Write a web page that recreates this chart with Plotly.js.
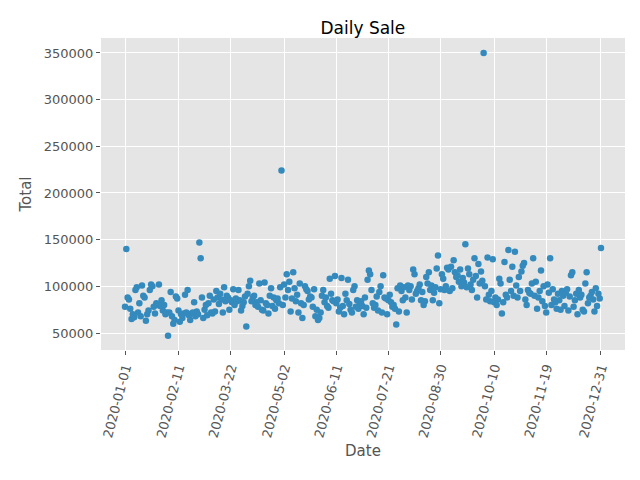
<!DOCTYPE html>
<html><head><meta charset="utf-8">
<script src="https://cdn.plot.ly/plotly-3.0.1.min.js"></script>
<style>body{margin:0}</style></head>
<body><div id="chart" style="width:640px;height:480px"></div>
<script>
// daily sales per month, 2020
const jan = [78000,140000,88000,86000,76000,65000,70000,67000,96000,99000,72000,82000,68000,101000,90000,88000,63000,70000,74000,96000,102000,100000,78000,71000,82000,80000,102000,79000,85000,74000,80000];
const feb = [70000,72000,47000,72000,94000,68000,60000,64000,89000,87000,74000,62000,70000,66000,71000,91000,72000,96000,69000,64000,71000,72000,83000,68000,73000,70000,147000,130000,88000];
const mar = [66000,75000,80000,69000,82000,90000,72000,71000,86000,73000,95000,88000,81000,92000,86000,72000,99000,84000,90000,88000,75000,85000,83000,97000,80000,87000,84000,96000,85000,74000,79000];
const apr = [83000,89000,57000,92000,100000,106000,84000,88000,90000,80000,83000,78000,103000,85000,75000,74000,104000,82000,80000,71000,90000,98000,79000,88000,76000,85000,87000,82000,99000,224000];
const may = [80000,102000,88000,113000,96000,105000,73000,87000,115000,98000,84000,91000,72000,103000,82000,66000,80000,100000,97000,95000,86000,89000,88000,78000,97000,68000,75000,64000,66000,72000,90000];
const jun = [96000,83000,88000,79000,77000,108000,92000,85000,84000,111000,82000,86000,73000,77000,109000,79000,70000,92000,85000,107000,81000,75000,72000,96000,100000,78000,85000,76000,82000,84000];
const jul = [79000,70000,88000,77000,107000,117000,113000,96000,82000,77000,80000,89000,74000,94000,100000,72000,112000,88000,87000,70000,85000,91000,83000,78000,80000,76000,59000,98000,73000,101000,95000];
const aug = [85000,99000,88000,72000,101000,96000,100000,86000,118000,113000,92000,95000,98000,102000,85000,94000,80000,84000,110000,103000,115000,96000,101000,85000,93000,99000,119000,133000,82000,97000,113000];
const sep = [108000,96000,100000,120000,118000,95000,121000,98000,128000,115000,110000,112000,105000,118000,100000,109000,104000,145000,99000,119000,113000,102000,96000,107000,130000,111000,88000,124000,103000,116000];
const oct = [106000,350000,100000,86000,131000,91000,84000,95000,129000,83000,88000,80000,86000,108000,103000,71000,83000,126000,91000,88000,139000,107000,95000,121000,90000,137000,101000,88000,110000,95000,116000];
const nov = [122000,125000,86000,80000,96000,93000,92000,103000,130000,90000,105000,76000,88000,95000,117000,84000,100000,79000,72000,102000,93000,130000,80000,97000,86000,83000,76000,92000,85000,75000];
const dec = [95000,90000,79000,93000,97000,74000,89000,112000,115000,78000,85000,92000,70000,96000,88000,91000,75000,73000,103000,115000,82000,88000,90000,94000,86000,73000,98000,79000,92000,87000,141000];
const tickLabels = ['2020-01-01','2020-02-11','2020-03-22','2020-05-02','2020-06-11','2020-07-21','2020-08-30','2020-10-10','2020-11-19','2020-12-31'];

const months = [jan,feb,mar,apr,may,jun,jul,aug,sep,oct,nov,dec];
const dates = [], sales = [];
months.forEach((m, mi) => m.forEach((v, di) => {
    dates.push('2020-' + String(mi + 1).padStart(2, '0') + '-' + String(di + 1).padStart(2, '0'));
    sales.push(v);
}));

const trace = {
    x: dates, y: sales, type: 'scatter', mode: 'markers',
    marker: { color: '#348ABD', size: 6.5 }
};

const layout = {
    width: 640, height: 480,
    paper_bgcolor: '#ffffff', plot_bgcolor: '#e5e5e5',
    margin: { l: 101, r: 15, t: 38, b: 130 },
    font: { family: 'DejaVu Sans', color: '#555555', size: 13 },
    title: { text: 'Daily Sale', font: { size: 17, color: '#000000' }, x: 0.567, xanchor: 'center', y: 0.955 },
    showlegend: false,
    xaxis: {
        type: 'date', range: ['2019-12-13 14:00', '2021-01-18 10:00'],
        tickvals: tickLabels, ticktext: tickLabels, tickangle: -75,
        gridcolor: '#ffffff', gridwidth: 1, zeroline: false,
        ticks: 'outside', ticklen: 4, tickcolor: '#555555',
        title: { text: 'Date', font: { size: 15, color: '#555555' }, standoff: 6 }
    },
    yaxis: {
        range: [31800, 366000], tickvals: [50000,100000,150000,200000,250000,300000,350000],
        tickformat: 'd', gridcolor: '#ffffff', zeroline: false,
        ticks: 'outside', ticklen: 4, tickcolor: '#555555',
        title: { text: 'Total', font: { size: 15, color: '#555555' }, standoff: 8 }
    }
};

Plotly.newPlot('chart', [trace], layout, { displayModeBar: false });
</script>
</body></html>
